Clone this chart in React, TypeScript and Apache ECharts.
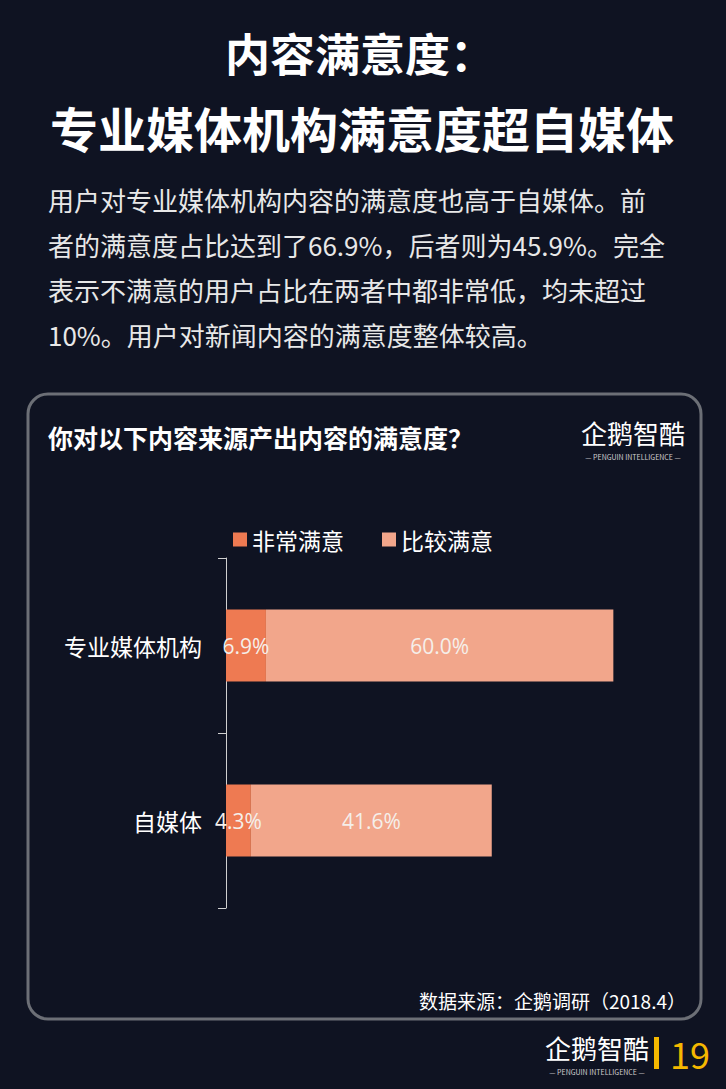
import React, { useEffect, useRef } from "react";
import * as echarts from "echarts";

const categories = ["专业媒体机构", "自媒体"];
const seriesNames = ["非常满意", "比较满意"];
const verySatisfied = [6.9, 4.3];
const fairlySatisfied = [60.0, 41.6];
const titleLines = ["内容满意度：", "专业媒体机构满意度超自媒体"];
const paragraphLines = [
  "用户对专业媒体机构内容的满意度也高于自媒体。前",
  "者的满意度占比达到了66.9%，后者则为45.9%。完全",
  "表示不满意的用户占比在两者中都非常低，均未超过",
  "10%。用户对新闻内容的满意度整体较高。",
];
const panelTitle = "你对以下内容来源产出内容的满意度？";
const sourceText = "数据来源：企鹅调研（2018.4）";
const pageNumber = "19";

const FONT = "'Noto Sans CJK SC', 'Noto Sans', sans-serif";

function logo(x: number, y: number, size: number) {
  return {
    type: "group",
    x,
    y,
    children: [
      {
        type: "text",
        x: 0,
        y: 0,
        style: {
          text: "企鹅智酷",
          fill: "#ffffff",
          font: `${size}px ${FONT}`,
          textAlign: "center",
          textVerticalAlign: "middle",
        },
      },
      {
        type: "text",
        x: 0,
        y: size * 0.95,
        style: {
          text: "— PENGUIN INTELLIGENCE —",
          fill: "#cfcfcf",
          font: `7px ${FONT}`,
          textAlign: "center",
          textVerticalAlign: "middle",
        },
      },
    ],
  };
}

export default function App() {
  const ref = useRef<HTMLDivElement>(null);
  useEffect(() => {
    document.body.style.margin = "0";
    const chart = echarts.init(ref.current!, undefined, { renderer: "svg" });
    const graphics: any[] = [];
    graphics.push({
      type: "text",
      x: 360,
      y: 52,
      style: {
        text: titleLines[0],
        fill: "#ffffff",
        font: `bold 45px ${FONT}`,
        textAlign: "center",
        textVerticalAlign: "middle",
      },
    });
    graphics.push({
      type: "text",
      x: 362,
      y: 127,
      style: {
        text: titleLines[1],
        fill: "#ffffff",
        font: `bold 48px ${FONT}`,
        textAlign: "center",
        textVerticalAlign: "middle",
      },
    });
    paragraphLines.forEach((t, i) => {
      graphics.push({
        type: "text",
        x: 48,
        y: 199 + i * 45,
        style: {
          text: t,
          fill: "#e8e8e8",
          font: `26px ${FONT}`,
          textAlign: "left",
          textVerticalAlign: "middle",
        },
      });
    });
    graphics.push({
      type: "rect",
      shape: { x: 28, y: 394, width: 673, height: 625, r: 20 },
      style: { fill: "transparent", stroke: "#6c6f76", lineWidth: 3 },
    });
    graphics.push({
      type: "text",
      x: 48,
      y: 437,
      style: {
        text: panelTitle,
        fill: "#ffffff",
        font: `bold 25px ${FONT}`,
        textAlign: "left",
        textVerticalAlign: "middle",
      },
    });
    graphics.push(logo(633, 432, 26));
    graphics.push({
      type: "text",
      x: 686,
      y: 1000,
      style: {
        text: sourceText,
        fill: "#ffffff",
        font: `19px ${FONT}`,
        textAlign: "right",
        textVerticalAlign: "middle",
      },
    });
    graphics.push(logo(597, 1047, 26));
    graphics.push({
      type: "rect",
      shape: { x: 654, y: 1037, width: 5, height: 32 },
      style: { fill: "#f5b800" },
    });
    graphics.push({
      type: "text",
      x: 690,
      y: 1053,
      style: {
        text: pageNumber,
        fill: "#f5b800",
        font: `36px ${FONT}`,
        textAlign: "center",
        textVerticalAlign: "middle",
      },
    });

    const labelCfg = {
      show: true,
      position: "inside",
      formatter: (p: any) => p.value.toFixed(1) + "%",
      color: "#f5efea",
      fontSize: 21,
      fontFamily: "'Open Sans', 'Noto Sans', sans-serif",
    };

    chart.setOption({
      animation: false,
      backgroundColor: "#0f1322",
      textStyle: { fontFamily: FONT },
      legend: {
        data: seriesNames,
        left: 228,
        top: 523,
        itemWidth: 14,
        itemHeight: 14,
        itemGap: 38,
        icon: "rect",
        textStyle: { color: "#ffffff", fontSize: 23, fontFamily: FONT },
      },
      grid: { left: 226, top: 558, width: 463.2, height: 350 },
      xAxis: {
        type: "value",
        min: 0,
        max: 80,
        show: false,
      },
      yAxis: {
        type: "category",
        data: categories,
        inverse: true,
        axisLine: { lineStyle: { color: "#d0d0d0", width: 1 } },
        axisTick: { show: true, length: 8, lineStyle: { color: "#d0d0d0" } },
        axisLabel: { color: "#ffffff", fontSize: 23, margin: 24, fontFamily: FONT },
      },
      series: [
        {
          name: seriesNames[0],
          type: "bar",
          stack: "s",
          barWidth: 72,
          data: verySatisfied,
          itemStyle: { color: "#ee7a52" },
          label: labelCfg,
        },
        {
          name: seriesNames[1],
          type: "bar",
          stack: "s",
          barWidth: 72,
          data: fairlySatisfied,
          itemStyle: { color: "#f2a68b" },
          label: labelCfg,
        },
      ],
      graphic: graphics,
    });
    return () => chart.dispose();
  }, []);
  return (
    <div
      ref={ref}
      style={{ position: "absolute", left: 0, top: 0, width: 726, height: 1089 }}
    />
  );
}
